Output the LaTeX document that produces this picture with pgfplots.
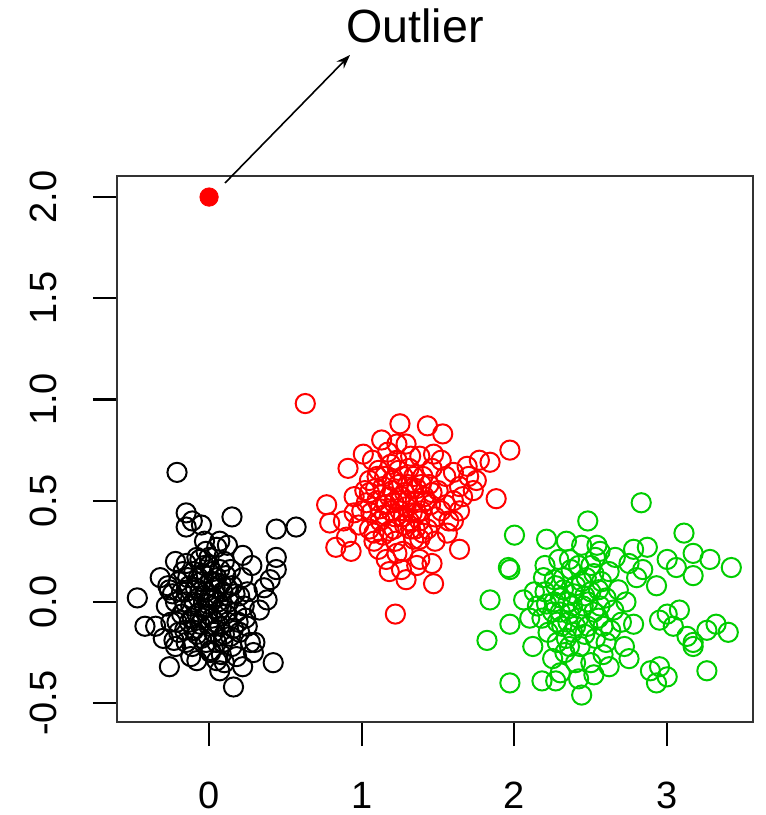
\documentclass[border=0pt]{standalone}
\usepackage{pgfplots}
\pgfplotsset{compat=1.18}
\usepackage{fontspec}
\setmainfont{Liberation Sans}
\usetikzlibrary{arrows.meta}
\definecolor{rgreen}{RGB}{0,205,0}
\definecolor{rred}{RGB}{255,0,0}
\pgfplotstableread{
x y
-0.21 0.64
-0.15 0.44
-0.11 0.40
-0.05 0.38
-0.15 0.37
0.15 0.42
0.44 0.36
0.57 0.37
0.07 0.30
0.22 0.23
0.44 0.22
-0.32 0.12
-0.47 0.02
-0.42 -0.12
-0.35 -0.12
-0.26 -0.32
0.16 -0.42
0.42 -0.30
-0.08 -0.29
0.07 -0.34
0.22 -0.32
-0.06 0.21
-0.15 0.19
-0.26 0.06
-0.23 -0.19
-0.22 -0.22
0.44 0.16
0.40 0.11
0.36 0.07
0.38 0.01
0.33 -0.04
0.25 -0.12
0.14 -0.17
0.27 -0.20
0.29 -0.25
0.18 -0.27
0.01 -0.25
-0.12 -0.27
0.05 -0.29
-0.20 0.10
-0.15 0.05
-0.10 0.15
-0.05 0.10
0.00 0.18
0.05 0.12
0.10 0.20
0.15 0.08
-0.12 -0.02
-0.07 0.02
-0.02 0.05
0.03 0.02
0.08 -0.03
0.13 0.00
0.18 -0.05
-0.18 -0.06
-0.13 -0.10
-0.08 -0.06
-0.03 -0.03
0.02 -0.08
0.07 -0.12
0.12 -0.10
0.20 0.03
-0.22 0.00
-0.25 -0.10
-0.20 -0.15
-0.15 -0.20
-0.10 -0.14
-0.05 -0.18
0.00 -0.12
0.05 -0.20
0.10 -0.16
0.15 -0.22
0.20 -0.15
0.24 -0.08
0.25 0.05
0.22 0.12
-0.02 0.25
0.05 0.27
-0.08 0.22
-0.17 0.15
-0.22 0.20
-0.28 -0.02
-0.01 -0.01
0.04 0.07
-0.04 -0.08
0.09 0.05
-0.09 0.07
0.01 0.10
-0.06 -0.11
0.11 0.13
-0.14 0.12
0.16 -0.13
-0.11 -0.22
0.01 -0.24
0.08 -0.26
-0.03 0.30
0.12 0.28
-0.30 -0.18
-0.27 0.08
0.30 -0.20
0.28 0.18
0.02 0.15
-0.16 0.00
0.06 -0.05
-0.04 0.14
0.03 -0.15
0.08 0.09
-0.10 0.00
0.00 0.02
-0.06 0.05
0.06 0.00
0.11 -0.06
-0.13 0.08
-0.01 -0.06
0.14 0.16
-0.18 0.05
0.17 0.04
-0.08 -0.16
0.04 -0.10
-0.03 0.18
0.09 -0.20
-0.11 -0.08
0.19 -0.10
-0.21 -0.10
0.00 0.22
0.12 0.07
-0.07 0.12
0.03 0.10
-0.16 -0.14
0.07 0.16
0.23 -0.02
-0.24 0.04
0.10 -0.30
-0.02 -0.20
}\blackdata
\pgfplotstableread{
x y
0.63 0.98
1.25 0.88
1.43 0.87
1.53 0.83
1.13 0.80
1.29 0.78
1.97 0.75
0.91 0.66
1.01 0.73
1.07 0.70
1.38 0.72
1.47 0.73
1.77 0.70
1.84 0.69
1.69 0.67
1.88 0.51
1.75 0.60
1.64 0.57
1.73 0.55
0.77 0.48
0.95 0.52
1.05 0.54
0.79 0.39
0.88 0.40
0.83 0.27
0.93 0.25
0.90 0.32
1.08 0.34
1.11 0.26
1.16 0.21
1.23 0.24
1.29 0.11
1.47 0.09
1.38 0.21
1.46 0.19
1.64 0.26
1.56 0.34
1.60 0.40
1.64 0.45
1.38 0.31
1.32 0.36
1.22 -0.06
1.00 0.45
1.05 0.60
1.10 0.50
1.15 0.62
1.20 0.55
1.25 0.45
1.30 0.58
1.35 0.50
1.40 0.62
1.45 0.48
1.50 0.55
1.55 0.62
1.60 0.50
1.12 0.40
1.18 0.35
1.22 0.42
1.28 0.38
1.33 0.44
1.38 0.40
1.43 0.36
1.48 0.42
1.08 0.30
1.16 0.48
1.24 0.65
1.19 0.68
1.26 0.52
1.31 0.66
1.36 0.56
1.41 0.52
1.46 0.66
1.52 0.45
1.57 0.40
1.02 0.55
0.98 0.38
1.06 0.44
1.14 0.57
1.21 0.49
1.29 0.47
1.34 0.31
1.22 0.30
1.27 0.25
1.17 0.74
1.23 0.78
1.32 0.72
1.52 0.70
1.60 0.64
1.66 0.52
1.70 0.62
1.11 0.65
1.39 0.45
1.44 0.58
1.05 0.36
0.95 0.44
1.20 0.60
1.28 0.54
1.35 0.36
1.48 0.30
1.26 0.16
1.36 0.18
1.18 0.15
1.12 0.46
1.18 0.52
1.24 0.58
1.30 0.50
1.36 0.44
1.42 0.50
1.27 0.42
1.21 0.36
1.15 0.43
1.33 0.56
1.39 0.58
1.25 0.50
1.19 0.45
1.31 0.40
1.09 0.56
1.46 0.54
1.14 0.33
1.27 0.62
1.34 0.62
1.03 0.49
1.55 0.48
1.40 0.34
1.23 0.70
1.10 0.62
}\reddata
\pgfplotstableread{
x y
2.83 0.49
2.48 0.40
2.00 0.33
2.21 0.31
3.11 0.34
2.54 0.28
2.56 0.25
2.78 0.26
2.87 0.27
3.17 0.24
3.28 0.21
3.42 0.17
3.00 0.21
3.06 0.17
3.17 0.13
1.96 0.17
1.97 0.16
2.29 0.21
2.36 0.21
2.19 0.12
2.26 0.11
2.80 0.12
2.93 0.08
2.75 0.19
2.84 0.16
1.84 0.01
2.06 0.01
2.15 -0.02
2.21 -0.01
1.97 -0.11
1.82 -0.19
2.10 -0.08
1.97 -0.40
2.18 -0.39
2.27 -0.39
2.44 -0.46
2.52 -0.36
2.72 -0.22
2.78 -0.11
2.95 -0.09
3.00 -0.06
3.08 -0.04
3.04 -0.12
3.13 -0.17
3.17 -0.20
3.26 -0.14
3.32 -0.11
3.40 -0.15
2.89 -0.34
2.95 -0.32
3.00 -0.37
2.93 -0.40
3.26 -0.34
3.17 -0.22
2.20 0.05
2.25 -0.05
2.30 0.02
2.35 -0.10
2.40 0.08
2.45 -0.02
2.50 0.05
2.55 -0.08
2.60 0.02
2.65 -0.04
2.22 -0.15
2.28 -0.20
2.33 -0.25
2.38 -0.15
2.43 -0.22
2.48 -0.12
2.53 -0.18
2.58 -0.26
2.63 -0.14
2.68 0.06
2.32 0.12
2.37 0.16
2.42 0.18
2.47 0.12
2.52 0.14
2.57 0.10
2.62 0.15
2.70 -0.10
2.73 0.00
2.27 0.08
2.18 -0.08
2.13 0.05
2.40 -0.30
2.36 -0.06
2.46 0.03
2.31 -0.12
2.56 -0.02
2.50 -0.30
2.30 -0.35
2.62 -0.32
2.66 0.22
2.44 0.28
2.34 0.30
2.75 -0.28
2.12 -0.22
2.25 -0.28
2.39 0.04
2.60 -0.20
2.53 0.22
2.20 0.18
2.35 0.00
2.42 -0.08
2.48 0.00
2.30 -0.05
2.38 -0.02
2.44 0.10
2.52 -0.05
2.28 -0.10
2.34 -0.18
2.46 -0.16
2.40 -0.12
2.55 0.06
2.32 0.06
2.26 0.00
2.58 -0.12
2.36 -0.22
2.50 0.18
2.42 -0.38
}\greendata
\begin{document}
\begin{tikzpicture}
\begin{axis}[
  at={(0pt,0pt)}, anchor=south west,
  scale only axis, width=318pt, height=273pt,
  xmin=-0.603, xmax=3.562, ymin=-0.593, ymax=2.104,
  xtick={0,1,2,3}, xticklabels={0,1,2,3},
  ytick={-0.5,0,0.5,1,1.5,2},
  yticklabels={-0.5,0.0,0.5,1.0,1.5,2.0},
  xtick pos=left, ytick pos=left,
  tick align=outside, major tick length=12pt,
  tick style={line width=1pt, black},
  axis line style={line width=1.3pt, black!80},
  ticklabel style={font=\fontsize{19}{22}\selectfont, inner sep=0pt},
  yticklabel style={rotate=90, anchor=south},
  xticklabel style={anchor=north},
  xticklabel shift=18pt, yticklabel shift=18pt,
  clip=false,
]
\addplot[only marks, mark=o, mark size=4.8pt, mark options={line width=1pt, draw=black}] table {\blackdata};
\addplot[only marks, mark=o, mark size=4.8pt, mark options={line width=1pt, draw=rred}] table {\reddata};
\addplot[only marks, mark=o, mark size=4.8pt, mark options={line width=1pt, draw=rgreen}] table {\greendata};
\addplot[only marks, mark=*, mark size=4.6pt, mark options={draw=rred, fill=rred}] coordinates {(0,2)};
\end{axis}
\draw[line width=0.8pt, -{Stealth[length=7pt,width=5pt]}] (54pt,269.5pt) -- (116.5pt,333.5pt);
\node[anchor=base, inner sep=0pt, font=\fontsize{23.3}{26}\selectfont] at (149pt,339.5pt) {Outlier};
\pgfresetboundingbox
\path[use as bounding box] (-58.5pt,-46.5pt) rectangle (324.5pt,361pt);
\end{tikzpicture}
\end{document}
